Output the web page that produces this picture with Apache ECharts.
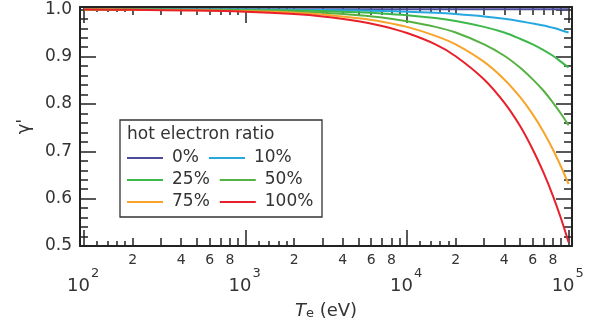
<!DOCTYPE html>
<html><head><meta charset="utf-8">
<script src="https://cdn.jsdelivr.net/npm/echarts@6/dist/echarts.min.js"></script>
<style>html,body{margin:0;padding:0;background:#fff}#c{width:611px;height:329px}</style>
</head><body><div id="c"></div>
<script>
// ---- data ----
const energies = [100, 200, 500, 1000, 2000, 3000, 5000, 7000, 10000, 15000, 20000, 30000, 40000, 50000, 60000, 70000, 80000, 90000, 100000];
const seriesNames = ['0%', '10%', '25%', '50%', '75%', '100%'];
const gamma0   = [1, 1, 1, 1, 1, 1, 1, 1, 1, 1, 1, 1, 1, 1, 1, 1, 1, 1, 1];
const gamma10  = [1.0, 0.9999, 0.9998, 0.9995, 0.999, 0.9985, 0.9975, 0.9966, 0.9951, 0.9926, 0.990, 0.985, 0.980, 0.975, 0.970, 0.966, 0.961, 0.956, 0.951];
const gamma25  = [0.9999, 0.9998, 0.9994, 0.9988, 0.9975, 0.9963, 0.9938, 0.9914, 0.9877, 0.9816, 0.9754, 0.963, 0.951, 0.938, 0.926, 0.914, 0.902, 0.889, 0.877];
const gamma50  = [0.9997, 0.9995, 0.9988, 0.9975, 0.995, 0.9926, 0.9876, 0.983, 0.975, 0.963, 0.951, 0.926, 0.902, 0.877, 0.852, 0.828, 0.803, 0.779, 0.755];
const gamma75  = [0.9996, 0.9993, 0.998, 0.996, 0.993, 0.989, 0.981, 0.974, 0.963, 0.944, 0.926, 0.889, 0.852, 0.815, 0.778, 0.741, 0.704, 0.667, 0.631];
const gamma100 = [0.9995, 0.999, 0.9975, 0.995, 0.990, 0.985, 0.975, 0.965, 0.950, 0.926, 0.901, 0.852, 0.803, 0.754, 0.704, 0.655, 0.606, 0.557, 0.508];
const seriesColors = ['#4b4b9b', '#27a7e0', '#3db84b', '#56b143', '#f8a42a', '#e8202a'];

// ---- tick labels / positions ----
const xDecades = [100, 1000, 10000, 100000];
const xMinorMantissas = [2, 3, 4, 5, 6, 7, 8, 9];
const xLabelMantissas = [2, 4, 6, 8];
const xSubMantissas = [1.2, 1.4, 1.6, 1.8];
const yMajorTicks = [0.5, 0.6, 0.7, 0.8, 0.9, 1.0];
const yMinorTicks = [0.52, 0.54, 0.56, 0.58, 0.62, 0.64, 0.66, 0.68, 0.72, 0.74, 0.76, 0.78, 0.82, 0.84, 0.86, 0.88, 0.92, 0.94, 0.96, 0.98];

const xMin = 94.5, xMax = 105000, yMin = 0.5, yMax = 1.005;
const FONT = 'DejaVu Sans';
const TXT = '#333';
const AX = '#222';

const lg = Math.log10;
const decLog = xDecades.map(lg);
const minorLog = [], labelLog = [], subLog = [];
[10, 100, 1000, 10000].forEach(d => {
  xMinorMantissas.forEach(m => minorLog.push(lg(m * d)));
  xLabelMantissas.forEach(m => labelLog.push(lg(m * d)));
  xSubMantissas.forEach(m => subLog.push(lg(m * d)));
});
const mant = v => String(Math.round(Math.pow(10, v - Math.floor(v + 1e-9))));

function xv(pos, ticks, len, opts) {
  return Object.assign({
    type: 'value', position: pos, min: lg(xMin), max: lg(xMax),
    axisLine: { show: false },
    axisTick: { show: !!ticks, inside: true, length: len, customValues: ticks || [], lineStyle: { color: AX, width: 1.5 } },
    axisLabel: { show: false },
    splitLine: { show: false }
  }, opts || {});
}
function yv(pos, ticks, len, opts) {
  return Object.assign({
    type: 'value', position: pos, min: yMin, max: yMax,
    axisLine: { show: false },
    axisTick: { show: true, inside: true, length: len, customValues: ticks, lineStyle: { color: AX, width: 1.5 } },
    axisLabel: { show: false },
    splitLine: { show: false }
  }, opts || {});
}
const axisLine = { show: true, lineStyle: { color: AX, width: 2 } };

const xAxes = [
  { type: 'log', min: xMin, max: xMax, show: false },
  xv('bottom', decLog, 16, {
    axisLine: axisLine,
    axisLabel: {
      show: true, customValues: decLog, margin: 31,
      formatter: () => '10',
      fontSize: 18, lineHeight: 18, fontFamily: FONT, color: TXT,
      padding: [0, 11, 0, 0]
    },
    name: '{i|T}{s|e}{n| (eV)}', nameLocation: 'middle', nameGap: 56,
    nameTextStyle: {
      rich: {
        i: { fontSize: 18, lineHeight: 18, fontStyle: 'italic', verticalAlign: 'bottom', fontFamily: FONT, color: TXT },
        s: { fontSize: 13, lineHeight: 14, verticalAlign: 'bottom', fontFamily: FONT, color: TXT },
        n: { fontSize: 18, lineHeight: 18, verticalAlign: 'bottom', fontFamily: FONT, color: TXT }
      }
    }
  }),
  // exponent of the decade labels
  xv('bottom', null, 0, {
    axisLabel: {
      show: true, customValues: decLog, margin: 21,
      formatter: v => String(Math.round(v)),
      fontSize: 13, lineHeight: 13, fontFamily: FONT, color: TXT,
      align: 'left', padding: [0, 0, 0, 7]
    }
  }),
  xv('bottom', minorLog, 8, {
    axisLabel: { show: true, customValues: labelLog, margin: 7, formatter: mant, fontSize: 14, fontFamily: FONT, color: TXT }
  }),
  xv('bottom', subLog, 5),
  xv('top', decLog, 16, { axisLine: axisLine }),
  xv('top', minorLog, 8),
  xv('top', subLog, 5)
];

const yAxes = [
  yv('left', yMajorTicks, 16, {
    axisLine: axisLine,
    axisLabel: { show: true, customValues: yMajorTicks, margin: 8, formatter: v => v.toFixed(1), fontSize: 17, fontFamily: FONT, color: TXT },
    name: "γ'", nameLocation: 'middle', nameRotate: 90, nameGap: 47,
    nameTextStyle: { fontSize: 18, fontFamily: FONT, color: TXT }
  }),
  yv('left', yMinorTicks, 8),
  yv('right', yMajorTicks, 16, { axisLine: axisLine }),
  yv('right', yMinorTicks, 8)
];

const gammas = [gamma0, gamma10, gamma25, gamma50, gamma75, gamma100];
const series = seriesNames.map((n, k) => ({
  name: n, type: 'line', xAxisIndex: 0, yAxisIndex: 0,
  data: energies.map((e, i) => [e, gammas[k][i]]),
  showSymbol: false, symbol: 'none', smooth: 0.3,
  lineStyle: { color: seriesColors[k], width: 2 },
  itemStyle: { color: seriesColors[k] },
  z: 2
}));

const legendCommon = {
  orient: 'horizontal', left: 127, padding: 0, itemGap: 10,
  itemWidth: 36, itemHeight: 2, icon: 'rect', selectedMode: false,
  textStyle: { fontSize: 17, lineHeight: 18, fontFamily: FONT, color: TXT, padding: [0, 0, 0, 4] },
  z: 6
};
const legendRowTops = [149, 171, 193];

const chart = echarts.init(document.getElementById('c'), null, { renderer: 'canvas' });
chart.setOption({
  animation: false,
  backgroundColor: '#fff',
  grid: { left: 80, right: 39, top: 7, bottom: 83, containLabel: false },
  xAxis: xAxes,
  yAxis: yAxes,
  legend: legendRowTops.map((t, r) => Object.assign({}, legendCommon, {
    top: t, data: [seriesNames[2 * r], seriesNames[2 * r + 1]]
  })),
  graphic: { elements: [
    { type: 'rect', z: 3, shape: { x: 120, y: 120, width: 202, height: 97 }, style: { fill: '#fff', stroke: '#333', lineWidth: 1.3 } },
    { type: 'text', z: 5, x: 127, y: 126, style: { text: 'hot electron ratio', font: '17px "DejaVu Sans"', fill: TXT } }
  ] },
  series: series
});
</script></body></html>
